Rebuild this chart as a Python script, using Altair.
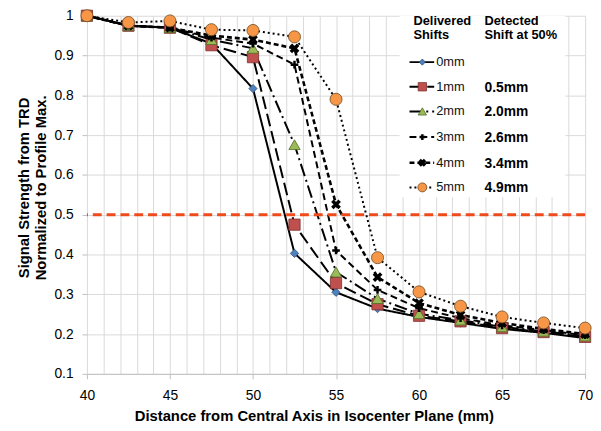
import altair as alt
import pandas as pd

# ---- data ----
distance = [40, 42.5, 45, 47.5, 50, 52.5, 55, 57.5, 60, 62.5, 65, 67.5, 70]
s0 = [1.0, 0.975, 0.97, 0.93, 0.817, 0.403, 0.305, 0.264, 0.243, 0.228, 0.213, 0.203, 0.190]
s1 = [1.0, 0.975, 0.97, 0.926, 0.896, 0.475, 0.328, 0.275, 0.246, 0.232, 0.215, 0.205, 0.193]
s2 = [1.0, 0.975, 0.97, 0.94, 0.918, 0.676, 0.356, 0.289, 0.251, 0.235, 0.218, 0.207, 0.195]
s3 = [1.0, 0.975, 0.97, 0.945, 0.930, 0.877, 0.410, 0.311, 0.265, 0.240, 0.222, 0.210, 0.197]
s4 = [1.0, 0.975, 0.97, 0.95, 0.940, 0.918, 0.526, 0.343, 0.278, 0.248, 0.228, 0.213, 0.200]
s5 = [1.0, 0.983, 0.987, 0.965, 0.963, 0.947, 0.790, 0.392, 0.306, 0.270, 0.243, 0.228, 0.215]
series_names = ["0mm", "1mm", "2mm", "3mm", "4mm", "5mm"]
series_values = [s0, s1, s2, s3, s4, s5]
detected = ["", "0.5mm", "2.0mm", "2.6mm", "3.4mm", "4.9mm"]
threshold = 0.5
x_ticks = list(range(40, 71))
y_ticks = [0.1, 0.2, 0.3, 0.4, 0.5, 0.6, 0.7, 0.8, 0.9, 1.0]

FONT = "Liberation Sans"
W, H = 505, 363

X_SHAPE = "M-1,-1L1,1M-1,1L1,-1"
PLUS_SHAPE = "M-1,0L1,0M0,-1L0,1"

styles = [
    dict(dash=[1, 0], width=2, shape="diamond", fill="#4F81BD", stroke="#2F4F7F", size=70, sw=0.8),
    dict(dash=[13, 5], width=2, shape="square", fill="#C0504D", stroke="#7F2F2D", size=130, sw=0.8),
    dict(dash=[13, 4, 2, 4], width=2, shape="triangle-up", fill="#9BBB59", stroke="#4F6A25", size=130, sw=0.8),
    dict(dash=[7, 4], width=2, shape=PLUS_SHAPE, fill=None, stroke="black", size=60, sw=2.5),
    dict(dash=[5, 3], width=2.6, shape=X_SHAPE, fill=None, stroke="black", size=55, sw=3.5),
    dict(dash=[2, 3], width=2, shape="circle", fill="#F79646", stroke="#6B4A20", size=150, sw=0.8),
]

xscale = alt.Scale(domain=[40, 70], nice=False, zero=False)
yscale = alt.Scale(domain=[0.1, 1.0], nice=False, zero=False)

xaxis = alt.Axis(
    values=x_ticks,
    labelExpr="datum.value % 5 === 0 ? datum.label : ''",
    title="Distance from Central Axis in Isocenter Plane (mm)",
    tickOpacity={"condition": {"test": "datum.value % 5 === 0", "value": 1}, "value": 0},
    labelFlush=False,
    labelOverlap=False,
    labelPadding=10,
    titlePadding=6,
    titleX=230,
)
yaxis = alt.Axis(
    values=y_ticks,
    format=".1~f",
    title=["Signal Strength from TRD", "Normalized to Profile Max."],
    labelPadding=9,
    titlePadding=6,
    labelOverlap=False,
    titleY=174,
)


def X():
    return alt.X("d:Q", scale=xscale, axis=xaxis)


def Y():
    return alt.Y("v:Q", scale=yscale, axis=yaxis)


layers = []

base_axes = alt.Chart(pd.DataFrame({"d": [40], "v": [0.1]})).mark_point(opacity=0).encode(x=X(), y=Y())
layers.append(base_axes)

# legend background box (covers gridlines)
box = alt.Chart(pd.DataFrame({"a": [0]})).mark_rect(color="white").encode(
    x=alt.value(317), x2=alt.value(485), y=alt.value(0), y2=alt.value(184)
)
layers.append(box)

line_layers = []
point_layers = []
for name, vals, st in zip(series_names, series_values, styles):
    df = pd.DataFrame({"d": distance, "v": vals, "s": name})
    line_layers.append(
        alt.Chart(df).mark_line(color="black", strokeWidth=st["width"], strokeDash=st["dash"]).encode(x=X(), y=Y())
    )
    pkw = dict(shape=st["shape"], size=st["size"], stroke=st["stroke"], strokeWidth=st["sw"], opacity=1)
    if st["fill"]:
        pkw.update(filled=True, fill=st["fill"])
    else:
        pkw.update(filled=False)
    point_layers.append(alt.Chart(df).mark_point(**pkw).encode(x=X(), y=Y()))

rule = alt.Chart(pd.DataFrame({"v": [threshold]})).mark_rule(
    color="#EE4A1C", strokeWidth=3, strokeDash=[9, 5]
).encode(y=Y())

layers += line_layers + [rule] + point_layers

# ---- custom legend (pixel positions relative to plot area) ----
LX0, LX1, LMX, LTX, LVX = 327, 352, 340, 354, 403
row_y = [47, 72, 97, 123, 149, 174]
for i, (name, st) in enumerate(zip(series_names, styles)):
    ypix = row_y[i]
    layers.append(
        alt.Chart(pd.DataFrame({"a": [0]})).mark_rule(
            color="black", strokeWidth=st["width"], strokeDash=st["dash"]
        ).encode(x=alt.value(LX0), x2=alt.value(LX1), y=alt.value(ypix))
    )
    pkw = dict(shape=st["shape"], size=st["size"] * 0.55, stroke=st["stroke"], strokeWidth=st["sw"], opacity=1)
    if st["fill"]:
        pkw.update(filled=True, fill=st["fill"])
    else:
        pkw.update(filled=False)
    layers.append(
        alt.Chart(pd.DataFrame({"a": [0]})).mark_point(**pkw).encode(x=alt.value(LMX), y=alt.value(ypix))
    )
    layers.append(
        alt.Chart(pd.DataFrame({"t": [name]})).mark_text(
            font=FONT, fontSize=13, align="left", baseline="middle", color="#111"
        ).encode(x=alt.value(LTX), y=alt.value(ypix), text="t:N")
    )
    if detected[i]:
        layers.append(
            alt.Chart(pd.DataFrame({"t": [detected[i]]})).mark_text(
                font=FONT, fontSize=14, fontWeight="bold", align="left", baseline="middle", color="black"
            ).encode(x=alt.value(LVX), y=alt.value(ypix + 1), text="t:N")
        )

headers = [("Delivered", 331, 5), ("Shifts", 331, 20), ("Detected", 403, 5), ("Shift at 50%", 403, 20)]
for txt, hx, hy in headers:
    layers.append(
        alt.Chart(pd.DataFrame({"t": [txt]})).mark_text(
            font=FONT, fontSize=13, fontWeight="bold", align="left", baseline="middle", color="black"
        ).encode(x=alt.value(hx), y=alt.value(hy), text="t:N")
    )

chart = alt.layer(*layers).properties(
    width=W, height=H,
    autosize=alt.AutoSizeParams(type="none"),
    padding={"left": 80, "top": 5, "right": 8, "bottom": 50},
).configure_view(stroke=None).configure_axis(
    labelFont=FONT, titleFont=FONT, labelFontSize=14, titleFontSize=15,
    titleFontWeight="bold", labelColor="black", titleColor="black",
    gridColor="#D9D9D9", gridWidth=1, domainColor="#BFBFBF", tickColor="#BFBFBF",
    tickSize=5,
).configure_axisY(domain=False)

chart.save("out.html", embed_options={"renderer": "svg", "actions": False})
